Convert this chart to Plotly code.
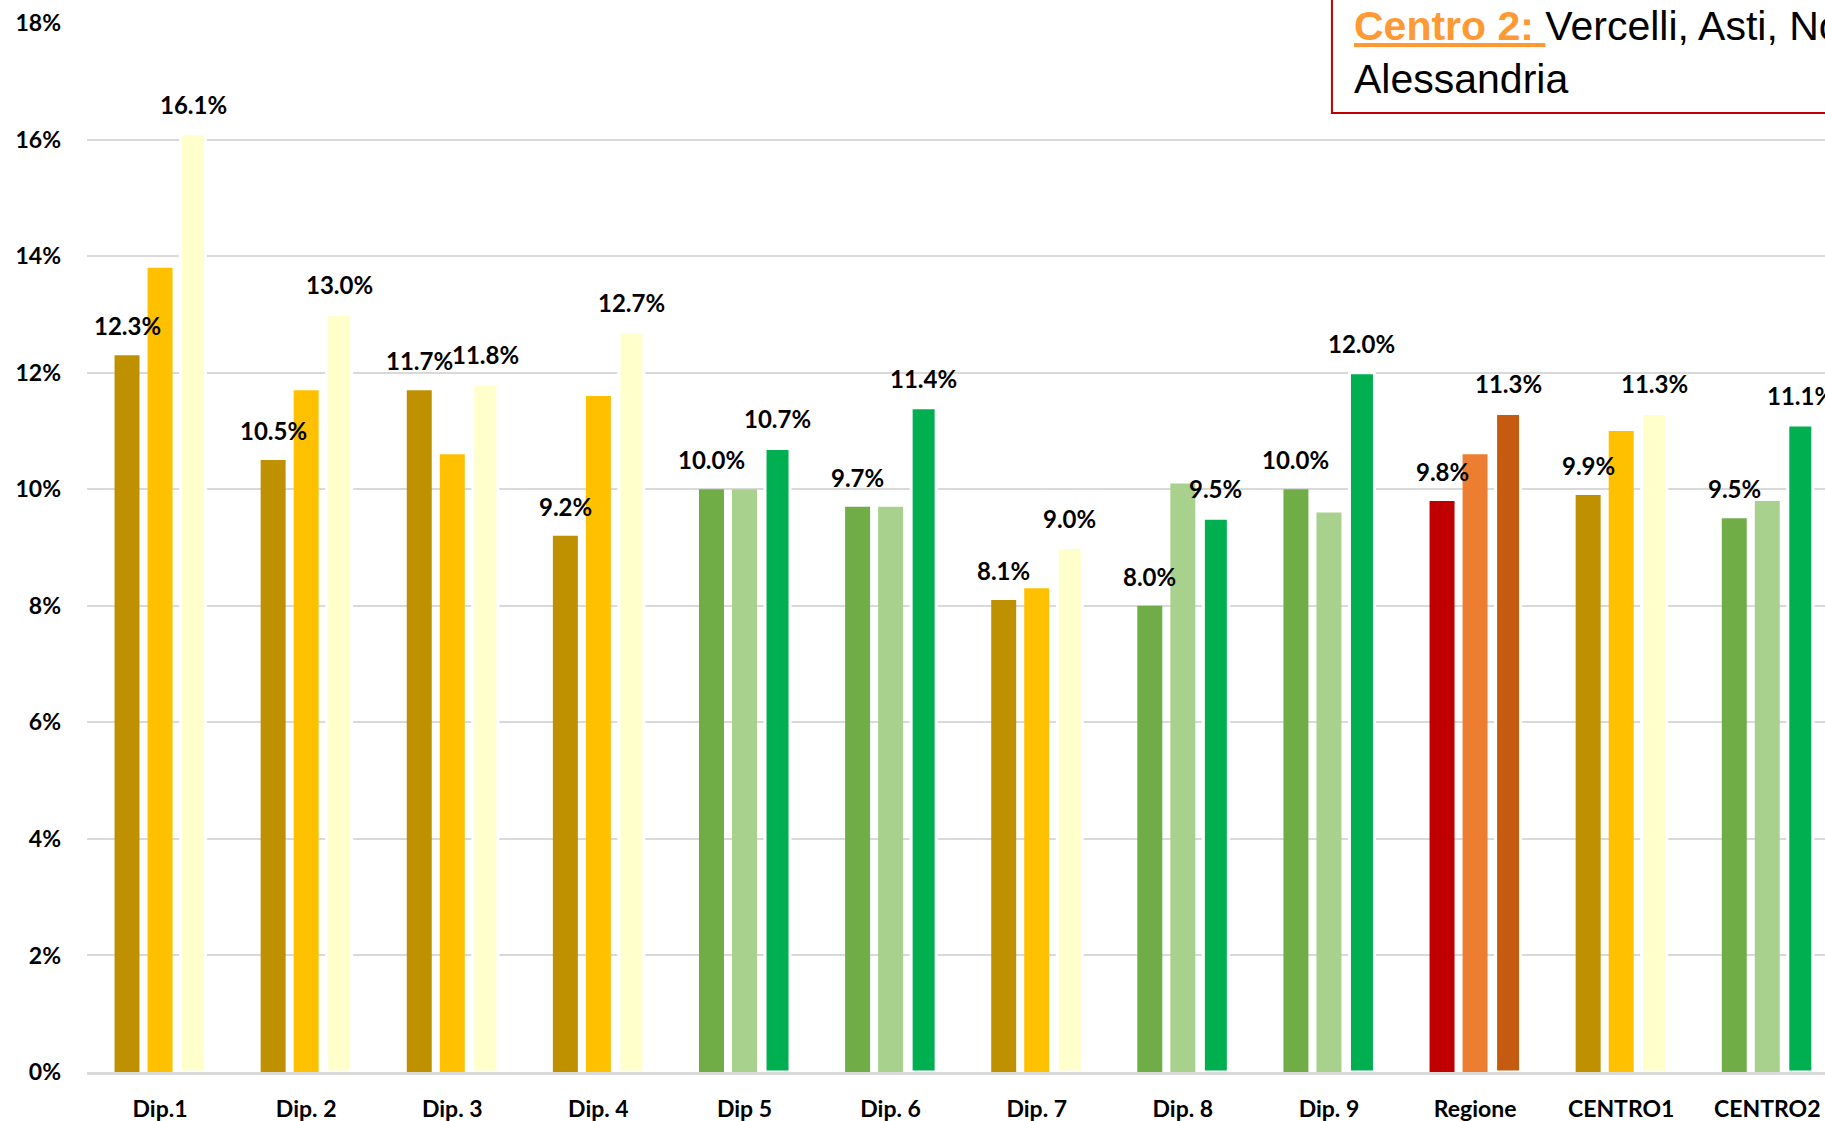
import plotly.graph_objects as go

# categories and the three series (percent values)
categories = ["Dip.1", "Dip. 2", "Dip. 3", "Dip. 4", "Dip 5", "Dip. 6",
              "Dip. 7", "Dip. 8", "Dip. 9", "Regione", "CENTRO1", "CENTRO2"]
series_a = [12.3, 10.5, 11.7, 9.2, 10.0, 9.7, 8.1, 8.0, 10.0, 9.8, 9.9, 9.5]
series_b = [13.8, 11.7, 10.6, 11.6, 10.0, 9.7, 8.3, 10.1, 9.6, 10.6, 11.0, 9.8]
series_c = [16.1, 13.0, 11.8, 12.7, 10.7, 11.4, 9.0, 9.5, 12.0, 11.3, 11.3, 11.1]

# colour family per category
family = ["gold", "gold", "gold", "gold", "green", "green",
          "gold", "green", "green", "red", "gold", "green"]
palette = {
    "gold": ["#BF9000", "#FFC000", "#FFFFCC"],
    "green": ["#70AD47", "#A9D18E", "#00B050"],
    "red": ["#C00000", "#ED7D31", "#C55A11"],
}

y_ticks = [0, 2, 4, 6, 8, 10, 12, 14, 16, 18]
y_tick_text = [f"{v}%" for v in y_ticks]

PITCH = 0.226
BAR_W = 0.171
LABEL_FONT = dict(family="Lato", size=24, color="black")

fig = go.Figure()
for k, vals in enumerate([series_a, series_b, series_c]):
    centre = (k - 1) * PITCH
    fig.add_trace(go.Bar(
        x=categories,
        y=vals,
        width=BAR_W,
        offset=centre - BAR_W / 2,
        marker=dict(
            color=[palette[f][k] for f in family],
            line=dict(color="white", width=3 if k == 2 else 0),
        ),
        hoverinfo="skip",
        showlegend=False,
    ))

# data labels on the first and third bar of every group
for i in range(len(categories)):
    for k, vals in ((0, series_a), (2, series_c)):
        fig.add_annotation(
            x=i + (k - 1) * PITCH, y=vals[i],
            text=f"<b>{vals[i]:.1f}%</b>",
            showarrow=False, yanchor="bottom", yshift=13,
            font=LABEL_FONT,
        )

# text box in the top right corner
fig.add_shape(
    type="rect", xref="paper", yref="paper",
    x0=0.7163, x1=1.2, y0=0.9142, y1=1.2,
    line=dict(color="#C00000", width=2), fillcolor="rgba(0,0,0,0)",
)
fig.add_annotation(
    xref="paper", yref="paper", x=0.7279, y=0.9228,
    xanchor="left", yanchor="bottom", align="left", showarrow=False,
    text=("<span style='color:#FF9933'><b><u>Centro 2: </u></b></span>"
          "Vercelli, Asti, Novara,<br>Alessandria"),
    font=dict(family="Liberation Sans", size=41, color="black"),
)

fig.update_layout(
    width=1825, height=1121,
    margin=dict(l=87, r=0, t=23, b=49),
    plot_bgcolor="white", paper_bgcolor="white",
    barmode="overlay",
    font=dict(family="Lato", color="black"),
)
fig.update_xaxes(
    range=[-0.5, 11.395],
    tickfont=dict(family="Lato", size=23, color="black"),
    tickvals=list(range(len(categories))), ticktext=[f"<b>{c}</b>" for c in categories],
    showgrid=False, showline=True, linecolor="#D9D9D9", linewidth=3,
    ticks="", ticklabelstandoff=14, layer="above traces",
)
fig.update_yaxes(
    range=[0, 18],
    tickvals=y_ticks, ticktext=[f"<b>{t}</b>" for t in y_tick_text],
    tickfont=dict(family="Lato", size=23, color="black"),
    showgrid=True, gridcolor="#D9D9D9", gridwidth=2,
    zeroline=False, showline=False, ticks="", ticklabelstandoff=25,
)

fig.write_html(
    "out.html",
    config={"displayModeBar": False},
    post_script="document.body.style.margin='0';",
)
